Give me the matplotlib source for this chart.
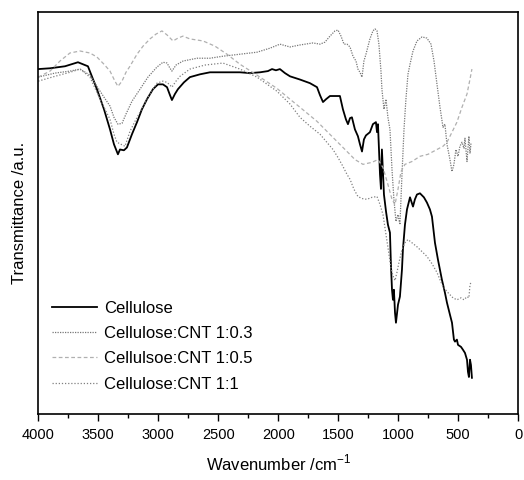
import matplotlib
matplotlib.use("Agg")
import matplotlib.pyplot as plt
from matplotlib.ticker import MultipleLocator

plt.rcParams['font.family'] = ['Liberation Sans', 'DejaVu Sans']

# Cellulose (wavenumber cm-1, transmittance a.u.)
cel_w = [4000, 3902, 3777, 3669, 3586, 3511, 3452, 3402, 3369, 3336, 3319, 3286, 3261, 3219,
         3177, 3136, 3094, 3044, 3002, 2961, 2927, 2902, 2886, 2861, 2836, 2786, 2736, 2652,
         2569, 2444, 2319, 2236, 2152, 2086, 2052, 2019, 1986, 1944, 1902, 1819, 1736, 1677,
         1652, 1627, 1602, 1569, 1486, 1461, 1436, 1419, 1402, 1386, 1361, 1336, 1319, 1302,
         1286, 1269, 1236, 1211, 1186, 1177, 1169, 1152, 1144, 1136, 1119, 1102, 1086, 1069,
         1061, 1052, 1044, 1036, 1027, 1019, 1002, 986, 969, 961, 944, 927, 902, 877, 861,
         844, 819, 786, 761, 736, 719, 694, 669, 636, 611, 594, 569, 552, 536, 527, 511, 502,
         477, 461, 444, 427, 419, 411, 402, 394, 386]
cel_t = [85.8, 86.0, 86.5, 87.5, 86.5, 80.8, 75.8, 70.8, 67.1, 64.6, 65.8, 65.6, 66.3, 69.6,
         72.6, 75.8, 78.3, 80.8, 82.0, 82.0, 81.3, 79.3, 78.1, 79.6, 80.8, 82.5, 83.8, 84.5,
         85.0, 85.0, 85.0, 84.8, 85.0, 85.3, 85.8, 85.5, 85.8, 84.8, 84.0, 83.2, 82.3, 81.3,
         79.3, 77.6, 78.3, 79.1, 79.1, 75.8, 73.3, 72.1, 73.6, 73.8, 70.8, 69.1, 67.1, 65.3,
         68.3, 69.3, 70.1, 72.1, 72.6, 70.1, 72.1, 59.6, 56.0, 65.8, 54.6, 50.4, 47.1, 45.1,
         37.2, 30.9, 28.4, 30.9, 25.2, 22.7, 27.2, 29.2, 35.9, 40.9, 47.1, 50.9, 53.9, 51.6, 53.4,
         54.6, 54.9, 53.9, 52.6, 50.9, 49.1, 42.6, 38.4, 33.4, 30.2, 27.7, 24.7, 22.7, 18.5, 18.0, 18.5, 17.2,
         16.7, 16.0, 15.2, 13.5, 10.5, 9.2, 13.5, 12.2, 9.0]

# Cellulose:CNT 1:0.3
c03_w = [4000, 3861, 3736, 3652, 3569, 3511, 3452, 3402, 3369, 3336, 3302, 3269, 3219, 3152,
         3086, 3011, 2961, 2927, 2902, 2886, 2852, 2794, 2677, 2569, 2461, 2319, 2177, 2069,
         1986, 1902, 1819, 1711, 1652, 1611, 1569, 1527, 1502, 1477, 1452, 1427, 1402, 1377,
         1352, 1336, 1319, 1302, 1286, 1269, 1236, 1211, 1194, 1177, 1161, 1144, 1136, 1119,
         1102, 1086, 1069, 1052, 1036, 1019, 1002, 986, 969, 952, 936, 919, 902, 877, 844, 802,
         761, 727, 702, 677, 652, 627, 611, 594, 569, 552, 536, 519, 502, 486, 469, 452, 444,
         427, 411, 402, 394]
c03_t = [83.8, 84.8, 85.3, 85.8, 84.3, 81.5, 78.8, 76.6, 73.8, 72.1, 72.3, 74.6, 77.8, 80.8,
         83.8, 86.3, 87.5, 87.3, 86.0, 85.3, 86.8, 87.8, 88.5, 88.5, 89.0, 89.5, 90.0, 91.0,
         92.0, 91.3, 91.8, 92.3, 92.0, 92.5, 94.0, 95.3, 95.5, 94.0, 92.0, 92.0, 91.3, 89.0,
         87.8, 85.8, 85.0, 83.8, 87.8, 89.5, 93.3, 95.3, 95.8, 95.3, 92.0, 85.3, 80.8, 75.8,
         78.3, 73.8, 70.8, 60.8, 53.4, 47.9, 49.6, 47.1, 59.4, 70.8, 78.3, 84.5, 87.0, 90.3, 92.8, 93.8,
         93.5, 92.0, 87.8, 82.0, 76.3, 71.3, 72.1, 67.1, 63.3, 60.3, 62.1, 65.8, 64.1, 66.6, 67.6, 66.1, 68.6,
         62.8, 69.1, 64.8, 67.3]

# Cellulose:CNT 1:0.5
c05_w = [4000, 3902, 3819, 3736, 3652, 3569, 3511, 3452, 3402, 3361, 3336, 3302, 3269, 3236,
         3177, 3127, 3069, 3019, 2969, 2927, 2877, 2836, 2794, 2736, 2627, 2527, 2427, 2319,
         2177, 2011, 1902, 1819, 1677, 1544, 1427, 1361, 1294, 1219, 1169, 1127, 1086, 1052,
         1027, 1002, 977, 944, 886, 819, 752, 677, 627, 594, 552, 511, 469, 427, 402, 386]
c05_t = [83.8, 85.3, 87.8, 89.8, 90.3, 89.8, 88.8, 87.0, 85.3, 82.8, 81.5, 82.8, 85.0, 86.5,
         89.5, 91.5, 93.3, 94.5, 95.3, 94.3, 92.8, 93.5, 94.0, 93.3, 92.8, 91.5, 89.5, 87.0,
         84.3, 81.0, 78.3, 76.3, 72.8, 68.8, 65.3, 63.3, 62.1, 62.6, 63.3, 61.3, 57.1, 53.4,
         52.1, 55.9, 60.3, 62.1, 62.8, 64.1, 64.6, 65.8, 66.6, 67.6, 70.1, 72.6, 76.3, 79.6, 83.3, 85.8]

# Cellulose:CNT 1:1
c11_w = [4000, 3861, 3736, 3652, 3569, 3511, 3452, 3402, 3369, 3344, 3311, 3277, 3236, 3194,
         3152, 3086, 3011, 2961, 2927, 2902, 2886, 2852, 2819, 2736, 2611, 2461, 2319, 2177,
         2011, 1902, 1819, 1736, 1652, 1544, 1502, 1461, 1427, 1402, 1369, 1336, 1302, 1261,
         1219, 1177, 1152, 1127, 1102, 1077, 1061, 1044, 1027, 1011, 994, 969, 944, 919, 886,
         844, 802, 761, 719, 677, 652, 627, 586, 544, 511, 477, 452, 427, 411, 402, 394]
c11_t = [82.8, 84.0, 85.0, 85.8, 83.8, 80.0, 76.3, 73.3, 69.6, 67.6, 67.1, 66.6, 70.3, 72.8,
         75.1, 78.8, 82.3, 82.8, 82.5, 81.8, 81.3, 82.8, 84.0, 85.8, 86.8, 87.3, 85.8, 83.8,
         80.3, 77.1, 73.8, 71.6, 69.6, 65.8, 63.8, 61.6, 59.6, 58.4, 55.9, 54.1, 53.6, 53.4,
         53.9, 54.1, 52.1, 49.6, 44.6, 39.7, 36.4, 34.4, 33.2, 35.2, 37.7, 40.9, 42.6, 43.4, 42.6,
         41.6, 40.4, 39.2, 37.4, 35.2, 33.4, 31.7, 30.2, 28.9, 28.4, 28.9, 28.4, 29.2, 28.9, 32.2, 32.7]

fig = plt.figure(figsize=(5.24, 4.8), dpi=100)
ax = fig.add_axes([0.073, 0.1375, 0.916, 0.8375])

ax.plot(cel_w, cel_t, color='black', lw=1.3, label='Cellulose')
ax.plot(c03_w, c03_t, color='#777777', lw=0.9, ls=(0, (1, 1)), label='Cellulose:CNT 1:0.3')
ax.plot(c05_w, c05_t, color='#b0b0b0', lw=0.9, ls=(0, (3, 2)), label='Cellulsoe:CNT 1:0.5')
ax.plot(c11_w, c11_t, color='#808080', lw=0.9, ls=(0, (1, 1.5)), label='Cellulose:CNT 1:1')

ax.set_xlim(4000, 0)
ax.set_ylim(0, 100)
ax.xaxis.set_major_locator(MultipleLocator(500))
ax.xaxis.set_minor_locator(MultipleLocator(250))
ax.tick_params(axis='x', which='major', direction='out', length=5, width=1, labelsize=10.5, pad=5)
ax.tick_params(axis='x', which='minor', direction='out', length=3, width=1)
ax.set_yticks([])
for s in ax.spines.values():
    s.set_linewidth(1.2)

ax.set_xlabel('Wavenumber /cm$^{\\mathregular{-1}}$', fontsize=12, labelpad=8)
ax.set_ylabel('Transmittance /a.u.', fontsize=12, labelpad=8)

ax.legend(loc='upper left', bbox_to_anchor=(0.029, 0.282), frameon=False, fontsize=12,
          handlelength=2.7, handletextpad=0.4, borderaxespad=0, borderpad=0, labelspacing=0.62)

fig.savefig('out.png', dpi=100)
